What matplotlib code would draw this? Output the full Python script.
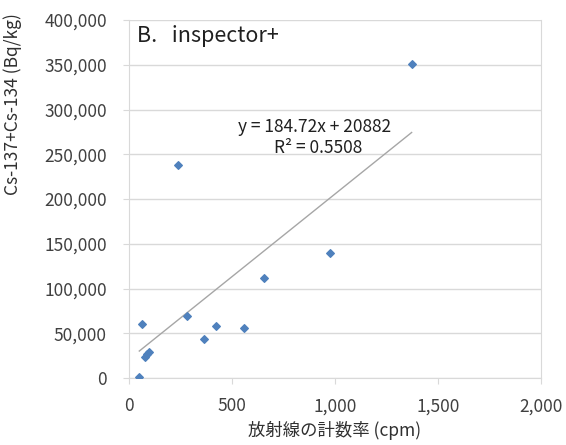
import numpy as np
import matplotlib.pyplot as plt
from matplotlib.ticker import FuncFormatter

plt.rcParams['font.family'] = ['Noto Sans CJK JP', 'DejaVu Sans']

# count rate (cpm) vs Cs-137+Cs-134 (Bq/kg)
cpm = [50, 62, 78, 86, 97, 236, 283, 366, 421, 560, 657, 976, 1372]
bq = [1000, 60000, 23500, 27000, 29000, 238300, 69600, 43200, 58000, 55500, 111700, 139300, 350500]

slope = 184.72
intercept = 20882
r2 = 0.5508

x_ticks = [0, 500, 1000, 1500, 2000]
y_ticks = [0, 50000, 100000, 150000, 200000, 250000, 300000, 350000, 400000]

fig = plt.figure(figsize=(5.66, 4.45), dpi=100)
ax = fig.add_axes([129/566, 1-378/445, 412/566, 358/445])

ax.set_xlim(0, 2000)
ax.set_ylim(0, 400000)
ax.set_xticks(x_ticks)
ax.set_yticks(y_ticks)
fmt = FuncFormatter(lambda v, p: f"{int(v):,}")
ax.xaxis.set_major_formatter(fmt)
ax.yaxis.set_major_formatter(fmt)

ax.grid(axis='y', color='#d9d9d9', linewidth=1)
ax.set_axisbelow(True)
for s in ax.spines.values():
    s.set_color('#d9d9d9')
ax.spines['top'].set_visible(False)
ax.tick_params(axis='both', colors='#d9d9d9', labelcolor='#404040', labelsize=12.5, length=4)
ax.tick_params(axis='x', pad=10)
ax.tick_params(axis='y', pad=12)

# trend line over data range
xs = np.array([min(cpm), max(cpm)])
ax.plot(xs, slope*xs + intercept, color='#a6a6a6', linewidth=1)

ax.scatter(cpm, bq, marker='D', s=15, color='#4f81bd', zorder=3)

ax.text(0.02, 0.955, 'B.   inspector+', transform=ax.transAxes, fontsize=15.5,
        color='#202020', va='center', ha='left')
ax.text(315/566, 1-127/445, f'y = {slope}x + {intercept}', transform=fig.transFigure,
        fontsize=12.5, color='#202020', ha='center', va='center')
ax.text(318/566, 1-148/445, f'R² = {r2}', transform=fig.transFigure,
        fontsize=12.5, color='#202020', ha='center', va='center')

ax.set_xlabel('放射線の計数率 (cpm)', fontsize=12.5, color='#303030')
ax.set_ylabel('Cs-137+Cs-134 (Bq/kg)', fontsize=12.5, color='#303030')
ax.yaxis.set_label_coords(-0.26, 0.765)
ax.xaxis.set_label_coords(0.5, -0.12)

fig.savefig('out.png', dpi=100)
